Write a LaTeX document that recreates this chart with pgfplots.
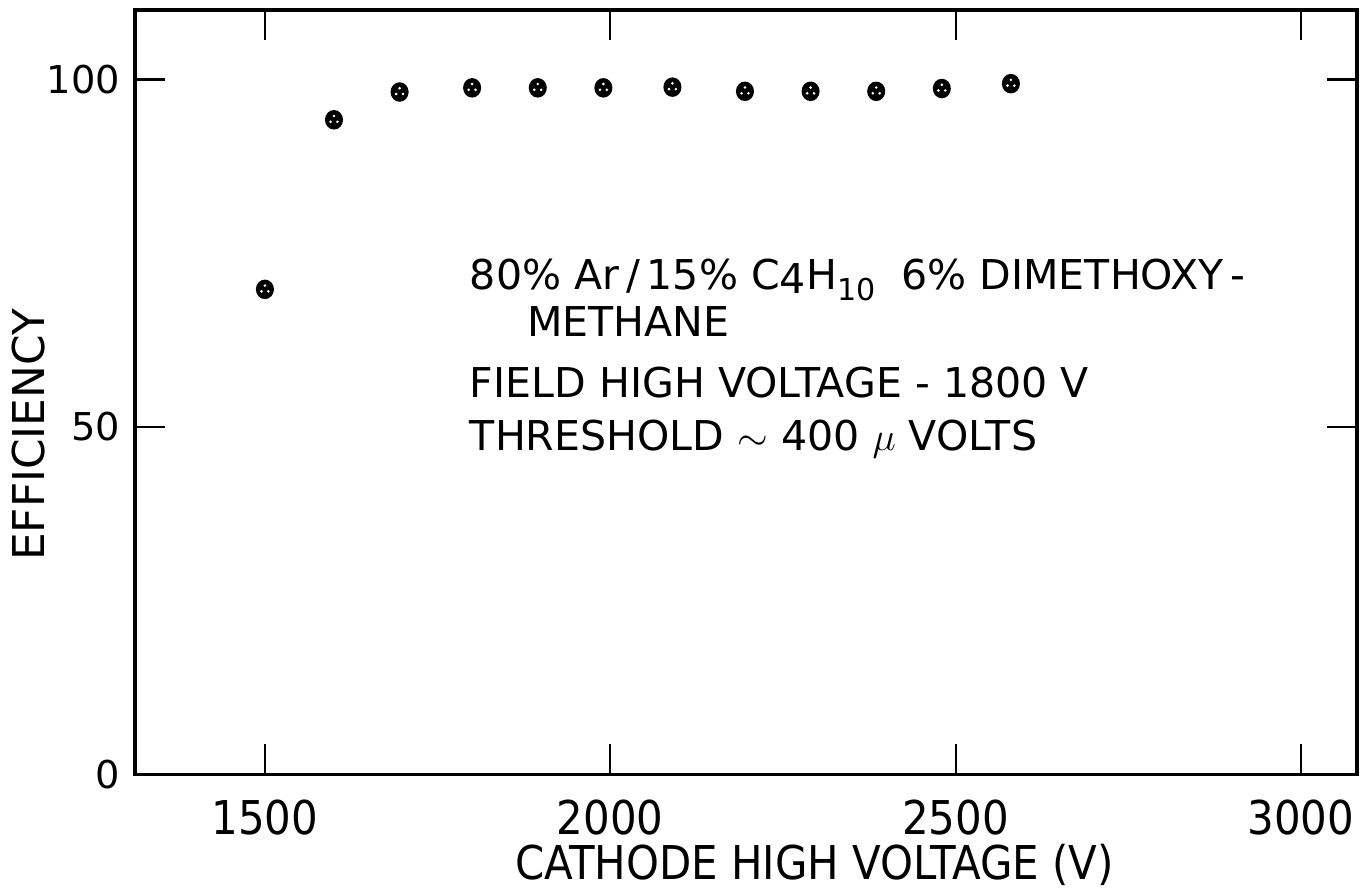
\documentclass[border=0pt]{standalone}
\usepackage{pgfplots}
\pgfplotsset{compat=1.18}
\usepackage{fontspec}
\setmainfont{DejaVu Sans Condensed}
\newfontfamily\dvs{DejaVu Sans}
\pgfdeclareplotmark{dotcirc}{%
  \pgfsetfillcolor{black}%
  \pgfpathellipse{\pgfpointorigin}{\pgfpoint{\pgfplotmarksize}{0pt}}{\pgfpoint{0pt}{1.08\pgfplotmarksize}}\pgfusepathqfill
  \pgfsetfillcolor{white}%
  \pgfpathcircle{\pgfpoint{0pt}{0.42\pgfplotmarksize}}{0.16\pgfplotmarksize}%
  \pgfpathcircle{\pgfpoint{-0.38\pgfplotmarksize}{-0.22\pgfplotmarksize}}{0.16\pgfplotmarksize}%
  \pgfpathcircle{\pgfpoint{0.38\pgfplotmarksize}{-0.22\pgfplotmarksize}}{0.16\pgfplotmarksize}%
  \pgfusepathqfill
  \pgfsetfillcolor{black}%
}
\begin{document}
\begin{tikzpicture}
\begin{axis}[name=ax,
  scale only axis, width=446pt, height=279pt,
  xmin=1312, xmax=3081, ymin=0, ymax=110,
  xtick={1500,2000,2500,3000}, ytick={0,50,100},
  tick align=inside, major tick length=11pt,
  axis line style={line width=1.2pt},
  every tick/.style={black, line width=0.8pt},
  /pgf/number format/1000 sep={},
  /pgf/number format/assume math mode=true,
  x tick label style={font=\fontsize{17}{17}\selectfont, anchor=base, yshift=-21.9pt},
  y tick label style={font=\dvs\fontsize{14}{14}\selectfont, anchor=east, xshift=-2pt},
  xlabel={CATHODE HIGH VOLTAGE (V)},
  xlabel style={font=\fontsize{17}{17}\selectfont, at={(axis description cs:0.556,-0.137)}, anchor=base},
  ylabel={EFFICIENCY},
  ylabel style={font=\dvs\fontsize{16}{16}\selectfont, at={(axis description cs:-0.0738,0.444)}, anchor=base, rotate=0},
]
\addplot[only marks, mark=dotcirc, mark size=3.3pt, black] coordinates {
 (1500,69.8) (1600,94.2) (1695,98.2) (1800,98.8) (1895,98.8) (1990,98.8)
 (2090,98.9) (2195,98.3) (2290,98.3) (2385,98.3) (2480,98.7) (2580,99.4)
};
\node[anchor=base west, font=\dvs\fontsize{15}{15}\selectfont, inner sep=0pt] at (axis cs:1796,69.8)
  {80\% Ar\,/\,15\% C\raisebox{-0.2ex}{4}H\raisebox{-0.5ex}{\fontsize{11}{11}\selectfont 10}\ \ 6\% DIMETHOXY\,-};
\node[anchor=base west, font=\dvs\fontsize{15}{15}\selectfont, inner sep=0pt] at (axis cs:1879,63.0) {METHANE};
\node[anchor=base west, font=\dvs\fontsize{15}{15}\selectfont, inner sep=0pt] at (axis cs:1796,54.3) {FIELD HIGH VOLTAGE - 1800 V};
\node[anchor=base west, font=\dvs\fontsize{15}{15}\selectfont, inner sep=0pt] at (axis cs:1796,46.6) {THRESHOLD $\sim$ 400 $\mu$ VOLTS};
\end{axis}
\path ([shift={(-49.3pt,-40.5pt)}]ax.south west) rectangle ([shift={(4.4pt,3.65pt)}]ax.north east);
\end{tikzpicture}
\end{document}
